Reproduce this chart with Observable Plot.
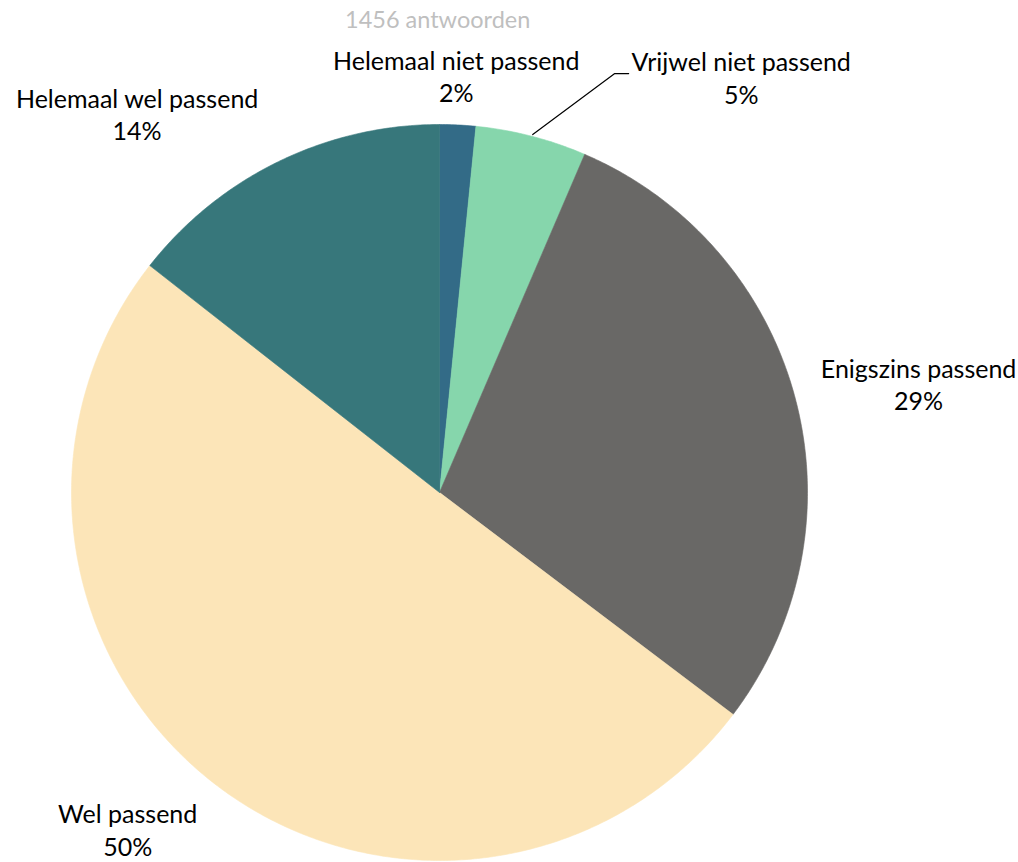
<!DOCTYPE html>
<html>
<head>
<meta charset="utf-8">
<script src="https://cdn.jsdelivr.net/npm/d3@7"></script>
<script src="https://cdn.jsdelivr.net/npm/@observablehq/plot@0.6"></script>
<style>
  html, body { margin: 0; padding: 0; background: #fff; }
  #chart { width: 1018px; height: 862px; }
</style>
</head>
<body>
<div id="chart"></div>
<script>
// ---- data ----
const title = "1456 antwoorden";
const categories = ["Helemaal niet passend", "Vrijwel niet passend", "Enigszins passend", "Wel passend", "Helemaal wel passend"];
const counts = [23, 71, 420, 732, 210];
const colors = ["#336b87", "#86d6ac", "#696866", "#fce5b8", "#37777b"];

// ---- layout (polar: degrees clockwise from top, radius as fraction of pie radius) ----
const labelAngle = [2.3, 36.0, 77.2, 222.8, 321.4];
const labelRadius = [1.134, 1.395, 1.335, 1.247, 1.317];
const leaderAngle = [14.6, 22.7, 24.3];
const leaderRadius = [1.005, 1.234, 1.249];

const total = d3.sum(counts);
const polar = (deg, r) => ({x: r * Math.sin(deg * Math.PI / 180), y: r * Math.cos(deg * Math.PI / 180)});

// slice polygons
const slices = [];
let cum = 0;
categories.forEach((cat, i) => {
  const a0 = cum / total * 360;
  cum += counts[i];
  const a1 = cum / total * 360;
  slices.push({cat, ...polar(0, 0)});
  const n = Math.max(2, Math.ceil((a1 - a0) / 0.5));
  for (let k = 0; k <= n; k++) slices.push({cat, ...polar(a0 + (a1 - a0) * k / n, 1)});
  slices.push({cat, ...polar(0, 0)});
});

const labels = categories.map((cat, i) => ({
  text: cat + "\n" + Math.round(counts[i] / total * 100) + "%",
  ...polar(labelAngle[i], labelRadius[i])
}));
const leader = leaderAngle.map((a, i) => polar(a, leaderRadius[i]));

const cx = 439, cy = 492, R = 368;
const chart = Plot.plot({
  width: 1018,
  height: 862,
  margin: 0,
  x: {domain: [-1, 1], range: [cx - R, cx + R], axis: null},
  y: {domain: [-1, 1], range: [cy + R, cy - R], axis: null},
  color: {domain: categories, range: colors},
  style: {fontFamily: "Lato, 'Open Sans', sans-serif", background: "#fff"},
  marks: [
    Plot.line(slices, {x: "x", y: "y", z: "cat", fill: "cat", stroke: "cat", strokeWidth: 0.6, curve: "linear"}),
    Plot.line(leader, {x: "x", y: "y", stroke: "#000", strokeWidth: 1.2}),
    Plot.text(labels, {x: "x", y: "y", text: "text", fontSize: 25, lineHeight: 1.3, fill: "#000", textAnchor: "middle"}),
    Plot.text([title], {x: [-0.005], y: [(cy - 20) / R], text: d => d, fontSize: 23.5, fill: "#bfbfbf", textAnchor: "middle"})
  ]
});
document.getElementById("chart").appendChild(chart);
</script>
</body>
</html>
